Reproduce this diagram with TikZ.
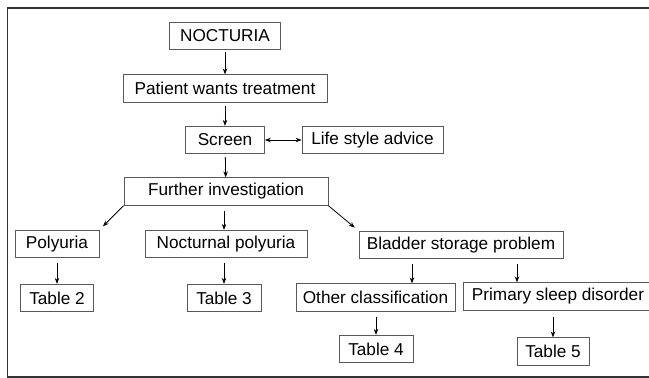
\documentclass[tikz,border=0pt]{standalone}
\usepackage{fontspec}
\setmainfont{Liberation Sans}
\usetikzlibrary{arrows.meta}
\tikzset{box/.style={draw=black!65,line width=0.75pt,minimum height=27.5pt,inner sep=0pt,
    font=\fontsize{17.2}{20}\selectfont}}
\begin{document}
\begin{tikzpicture}[>={Stealth[length=6pt,width=4.5pt]},x=1pt,y=-1pt]
       \useasboundingbox (0,0) rectangle (649,378);
       \clip (0,0) rectangle (649,378);
       \draw [black!80,line width=1.3pt] (670,8) -| (7.5,377) -- (670,377);
       \node [box,minimum width=111pt] (noct) at (225,36) {NOCTURIA};
       \node [box,minimum width=204pt] (patient) at (225,88.5) {Patient wants treatment};
       \node [box,minimum width=79pt] (screen) at (225,140) {Screen};
       \node [box,minimum width=141pt] (life) at (372.5,140) {Life style advice};
       \node [box,minimum width=204pt] (further) at (226,191.5) {Further investigation};
       \node [box,minimum width=84pt] (poly) at (57,244) {Polyuria};
       \node [box,minimum width=162pt] (nocpoly) at (226,244) {Nocturnal polyuria};
       \node [box,minimum width=204pt] (bladder) at (461,245) {Bladder storage problem};
       \node [box,minimum width=73pt] (tab2) at (57,298) {Table 2};
       \node [box,minimum width=74pt] (tab3) at (224,298) {Table 3};
       \node [box,minimum width=159pt] (other) at (375.5,297.5) {Other classification};
       \node [box,minimum width=190pt] (sleep) at (558,296.5) {Primary sleep disorder};
       \node [box,minimum width=74pt] (tab4) at (376,349) {Table 4};
       \node [box,minimum width=72pt] (tab5) at (553,351.5) {Table 5};
       \coordinate (b1) at (412,259);
       \coordinate (b2) at (517,259);
       % arrows
       \draw [->,thick,shorten <=2pt] (noct) -- (patient);
       \draw [->,thick,shorten <=3pt] (patient) -- (screen);
       \draw [<->,thick] (screen) -- (life);
       \draw [->,thick,shorten <=3pt] (screen) -- (further);
       \draw [->,thick,shorten >=5pt] (further.south west) -- (poly.north east);
       \draw [->,thick,shorten <=5pt] (further.south -| tab3) -- (tab3 |- nocpoly.north);
       \draw [->,thick,shorten >=5pt] (further.south east) -- (bladder.north west);
       \draw [->,thick,shorten <=5pt] (poly) -- (tab2);
       \draw [->,thick,shorten <=5pt] (nocpoly.south -| tab3) -- (tab3);
       \draw [->,thick,shorten <=5pt] (b1) -- (b1 |- other.north);
       \draw [->,thick,shorten <=5pt] (b2) -- (b2 |- sleep.north);
       \draw [->,thick,shorten <=5pt] (other.south -| tab4) -- (tab4);
       \draw [->,thick,shorten <=6pt] (sleep.south -| tab5) -- (tab5);
    \end{tikzpicture}
\end{document}
